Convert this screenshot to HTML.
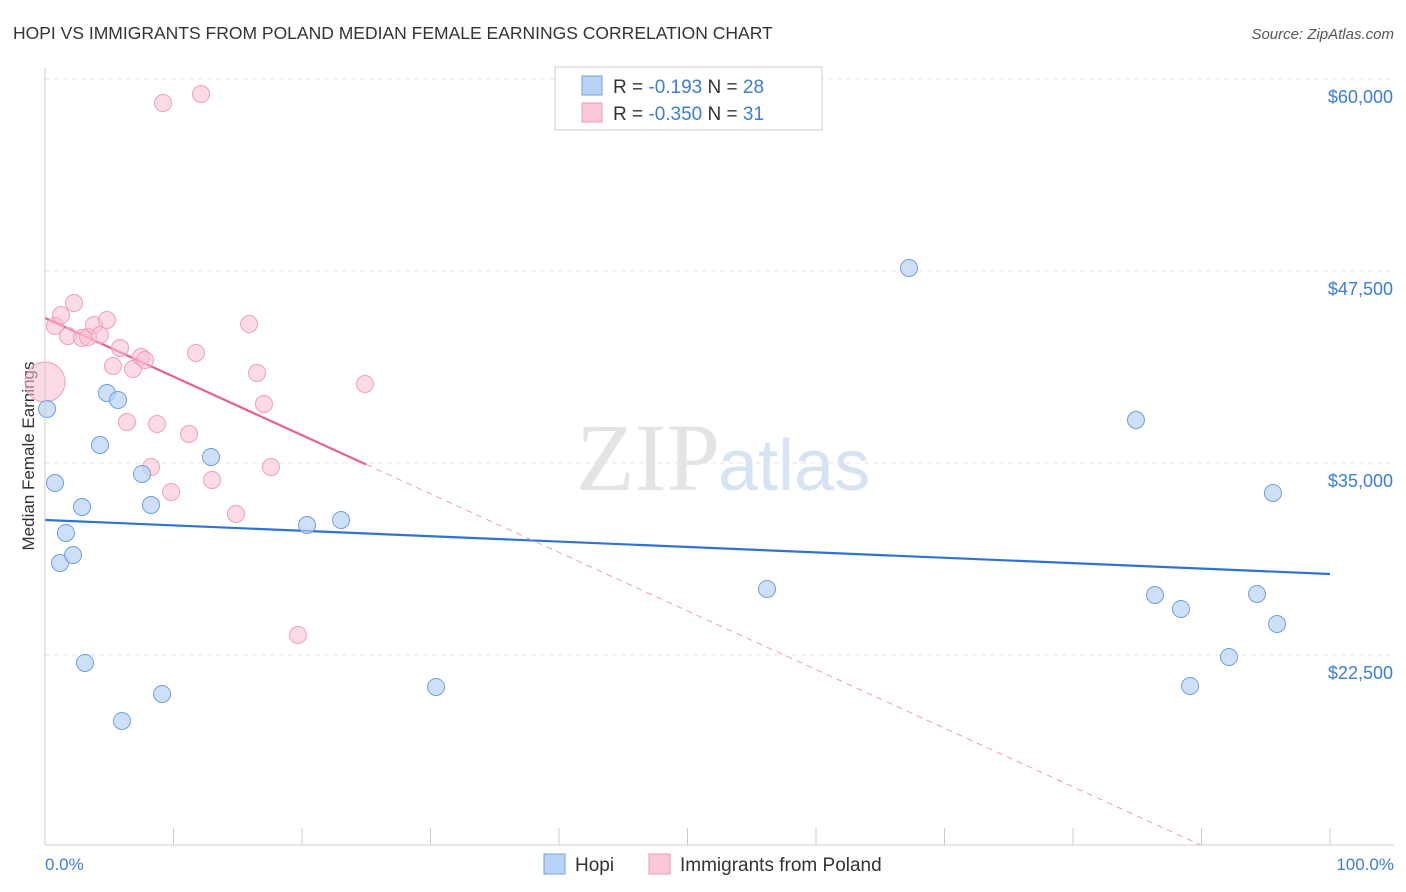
<!DOCTYPE html>
<html><head><meta charset="utf-8"><style>
body{margin:0;background:#fff;font-family:"Liberation Sans",sans-serif}
#wrap{position:relative;width:1406px;height:892px;overflow:hidden}
</style></head><body>
<div id="wrap">
<svg id="svg" width="1406" height="892" xmlns="http://www.w3.org/2000/svg">
<text x="13" y="39" font-size="17.5" fill="#333">HOPI VS IMMIGRANTS FROM POLAND MEDIAN FEMALE EARNINGS CORRELATION CHART</text>
<text x="1394" y="39" font-size="15" fill="#555" font-style="italic" text-anchor="end">Source: ZipAtlas.com</text>
<text x="720" y="490" font-size="96" fill="#e4e4e4" text-anchor="end" font-family="Liberation Serif,serif">ZIP</text>
<text x="718" y="490" font-size="72" fill="#d5e3f3">atlas</text>
<text transform="translate(34,456) rotate(-90)" font-size="17" fill="#333" text-anchor="middle">Median Female Earnings</text>
<g id="grid"></g><g id="trend"></g><g id="pts"></g>
<line x1="45" y1="68" x2="45" y2="845" stroke="#ccc"/>
<line x1="45" y1="845" x2="1394" y2="845" stroke="#ccc"/>
<text x="45" y="870" font-size="17" fill="#3b7dd8">0.0%</text>
<text x="1394" y="870" font-size="17" fill="#3b7dd8" text-anchor="end">100.0%</text>
<g>
<rect x="555" y="67" width="267" height="63" fill="#fff" stroke="#ccc"/>
<rect x="582" y="76" width="20" height="19" fill="#b8d3f5" stroke="#6fa0e0"/>
<rect x="582" y="103" width="20" height="19" fill="#fbc8d7" stroke="#ee9bb4"/>
<text x="613" y="93" font-size="19" fill="#333">R = <tspan fill="#3b7dd8"> -0.193</tspan>   N = <tspan fill="#3b7dd8">28</tspan></text>
<text x="613" y="120" font-size="19" fill="#333">R = <tspan fill="#3b7dd8">-0.350</tspan>   N = <tspan fill="#3b7dd8"> 31</tspan></text>
</g>
<g>
<rect x="544" y="854" width="21" height="20" fill="#b8d3f5" stroke="#6fa0e0"/>
<text x="575" y="871" font-size="19" fill="#333">Hopi</text>
<rect x="649" y="854" width="21" height="20" fill="#fbc8d7" stroke="#ee9bb4"/>
<text x="680" y="871" font-size="19" fill="#333">Immigrants from Poland</text>
</g>
</svg>
</div>
<script>
const yTicks=[22500,35000,47500,60000];
const yTickLabels=["$22,500","$35,000","$47,500","$60,000"];
const xTicks=[0,10,20,30,40,50,60,70,80,90,100];
const hopiX=[0.16,0.78,1.17,1.63,2.18,2.88,3.11,4.28,4.82,5.68,5.99,7.55,8.25,9.11,12.92,20.39,23.04,30.43,56.19,67.24,84.9,86.38,88.4,89.11,92.14,94.32,95.56,95.88];
const hopiY=[38516,33698,28490,30445,29012,32137,21982,36173,39559,39103,18206,34286,32267,19964,35392,30965,31291,20419,26799,47696,37801,26408,25497,20484,22372,26473,33049,24520];
const polX=[0,0.78,1.25,1.79,2.26,2.88,3.35,3.81,4.28,4.82,5.29,5.84,6.38,6.85,7.47,7.78,8.25,8.72,9.18,9.81,11.21,11.75,12.14,13.0,14.86,15.88,16.5,17.04,17.59,19.69,24.9];
const polY=[40275,43920,44636,43269,45418,43139,43204,43985,43334,44311,41316,42488,37671,41121,41902,41707,34741,37540,58438,33114,36889,42163,59023,33895,31681,44050,40861,38842,34741,23804,40144];
const hopiTrend=[31291,27775];
const polTrend=[44441,6292];
const polSolidEnd=25;
const NS="http://www.w3.org/2000/svg";
const xs=p=>45+p*12.85, ys=v=>79+(60000-v)*192/12500;
function mk(t,a,parent){const e=document.createElementNS(NS,t);for(const k in a)e.setAttribute(k,a[k]);document.getElementById(parent).appendChild(e);return e;}
yTicks.forEach((v,i)=>{
 const l=mk('line',{x1:45,x2:1394,y1:ys(v),y2:ys(v),stroke:'#e6e6e6','stroke-dasharray':'5,4'},'grid');
 
 
 const t=mk('text',{x:1393,y:ys(v)+24,'font-size':18,fill:'#3b7dd8','text-anchor':'end'},'grid');
 t.textContent=yTickLabels[i];
 
 
});
xTicks.forEach(p=>{
 const l=mk('line',{x1:xs(p),x2:xs(p),y1:828,y2:845,stroke:'#ccc'},'grid');
 
 
});
const bl=mk('line',{x1:xs(0),y1:ys(hopiTrend[0]),x2:xs(100),y2:ys(hopiTrend[1]),stroke:'#2f72d6','stroke-width':2.2},'trend');


const py=p=>polTrend[0]+(polTrend[1]-polTrend[0])*p/100;
const ps=mk('line',{x1:xs(0),y1:ys(polTrend[0]),x2:xs(polSolidEnd),y2:ys(py(polSolidEnd)),stroke:'#e8618c','stroke-width':2.2},'trend');


const yB=845, pEnd=Math.min(100,(( (60000-(yB-79)*12500/192) -polTrend[0])/(polTrend[1]-polTrend[0]))*100);
const pd=mk('line',{x1:xs(polSolidEnd),y1:ys(py(polSolidEnd)),x2:xs(pEnd),y2:ys(py(pEnd)),stroke:'#e8a0b8','stroke-width':1,'stroke-dasharray':'6,5'},'trend');


polX.forEach((p,i)=>{
 const c=mk('circle',{cx:xs(p),cy:ys(polY[i]),r:i===0?20:8.5,fill:'rgba(249,190,208,0.55)',stroke:'#eea0b8','stroke-width':1},'pts');
 
 
});
hopiX.forEach((p,i)=>{
 const c=mk('circle',{cx:xs(p),cy:ys(hopiY[i]),r:8.5,fill:'rgba(184,211,245,0.7)',stroke:'#6fa0e0','stroke-width':1},'pts');
 
 
});
</script>
</body></html>
